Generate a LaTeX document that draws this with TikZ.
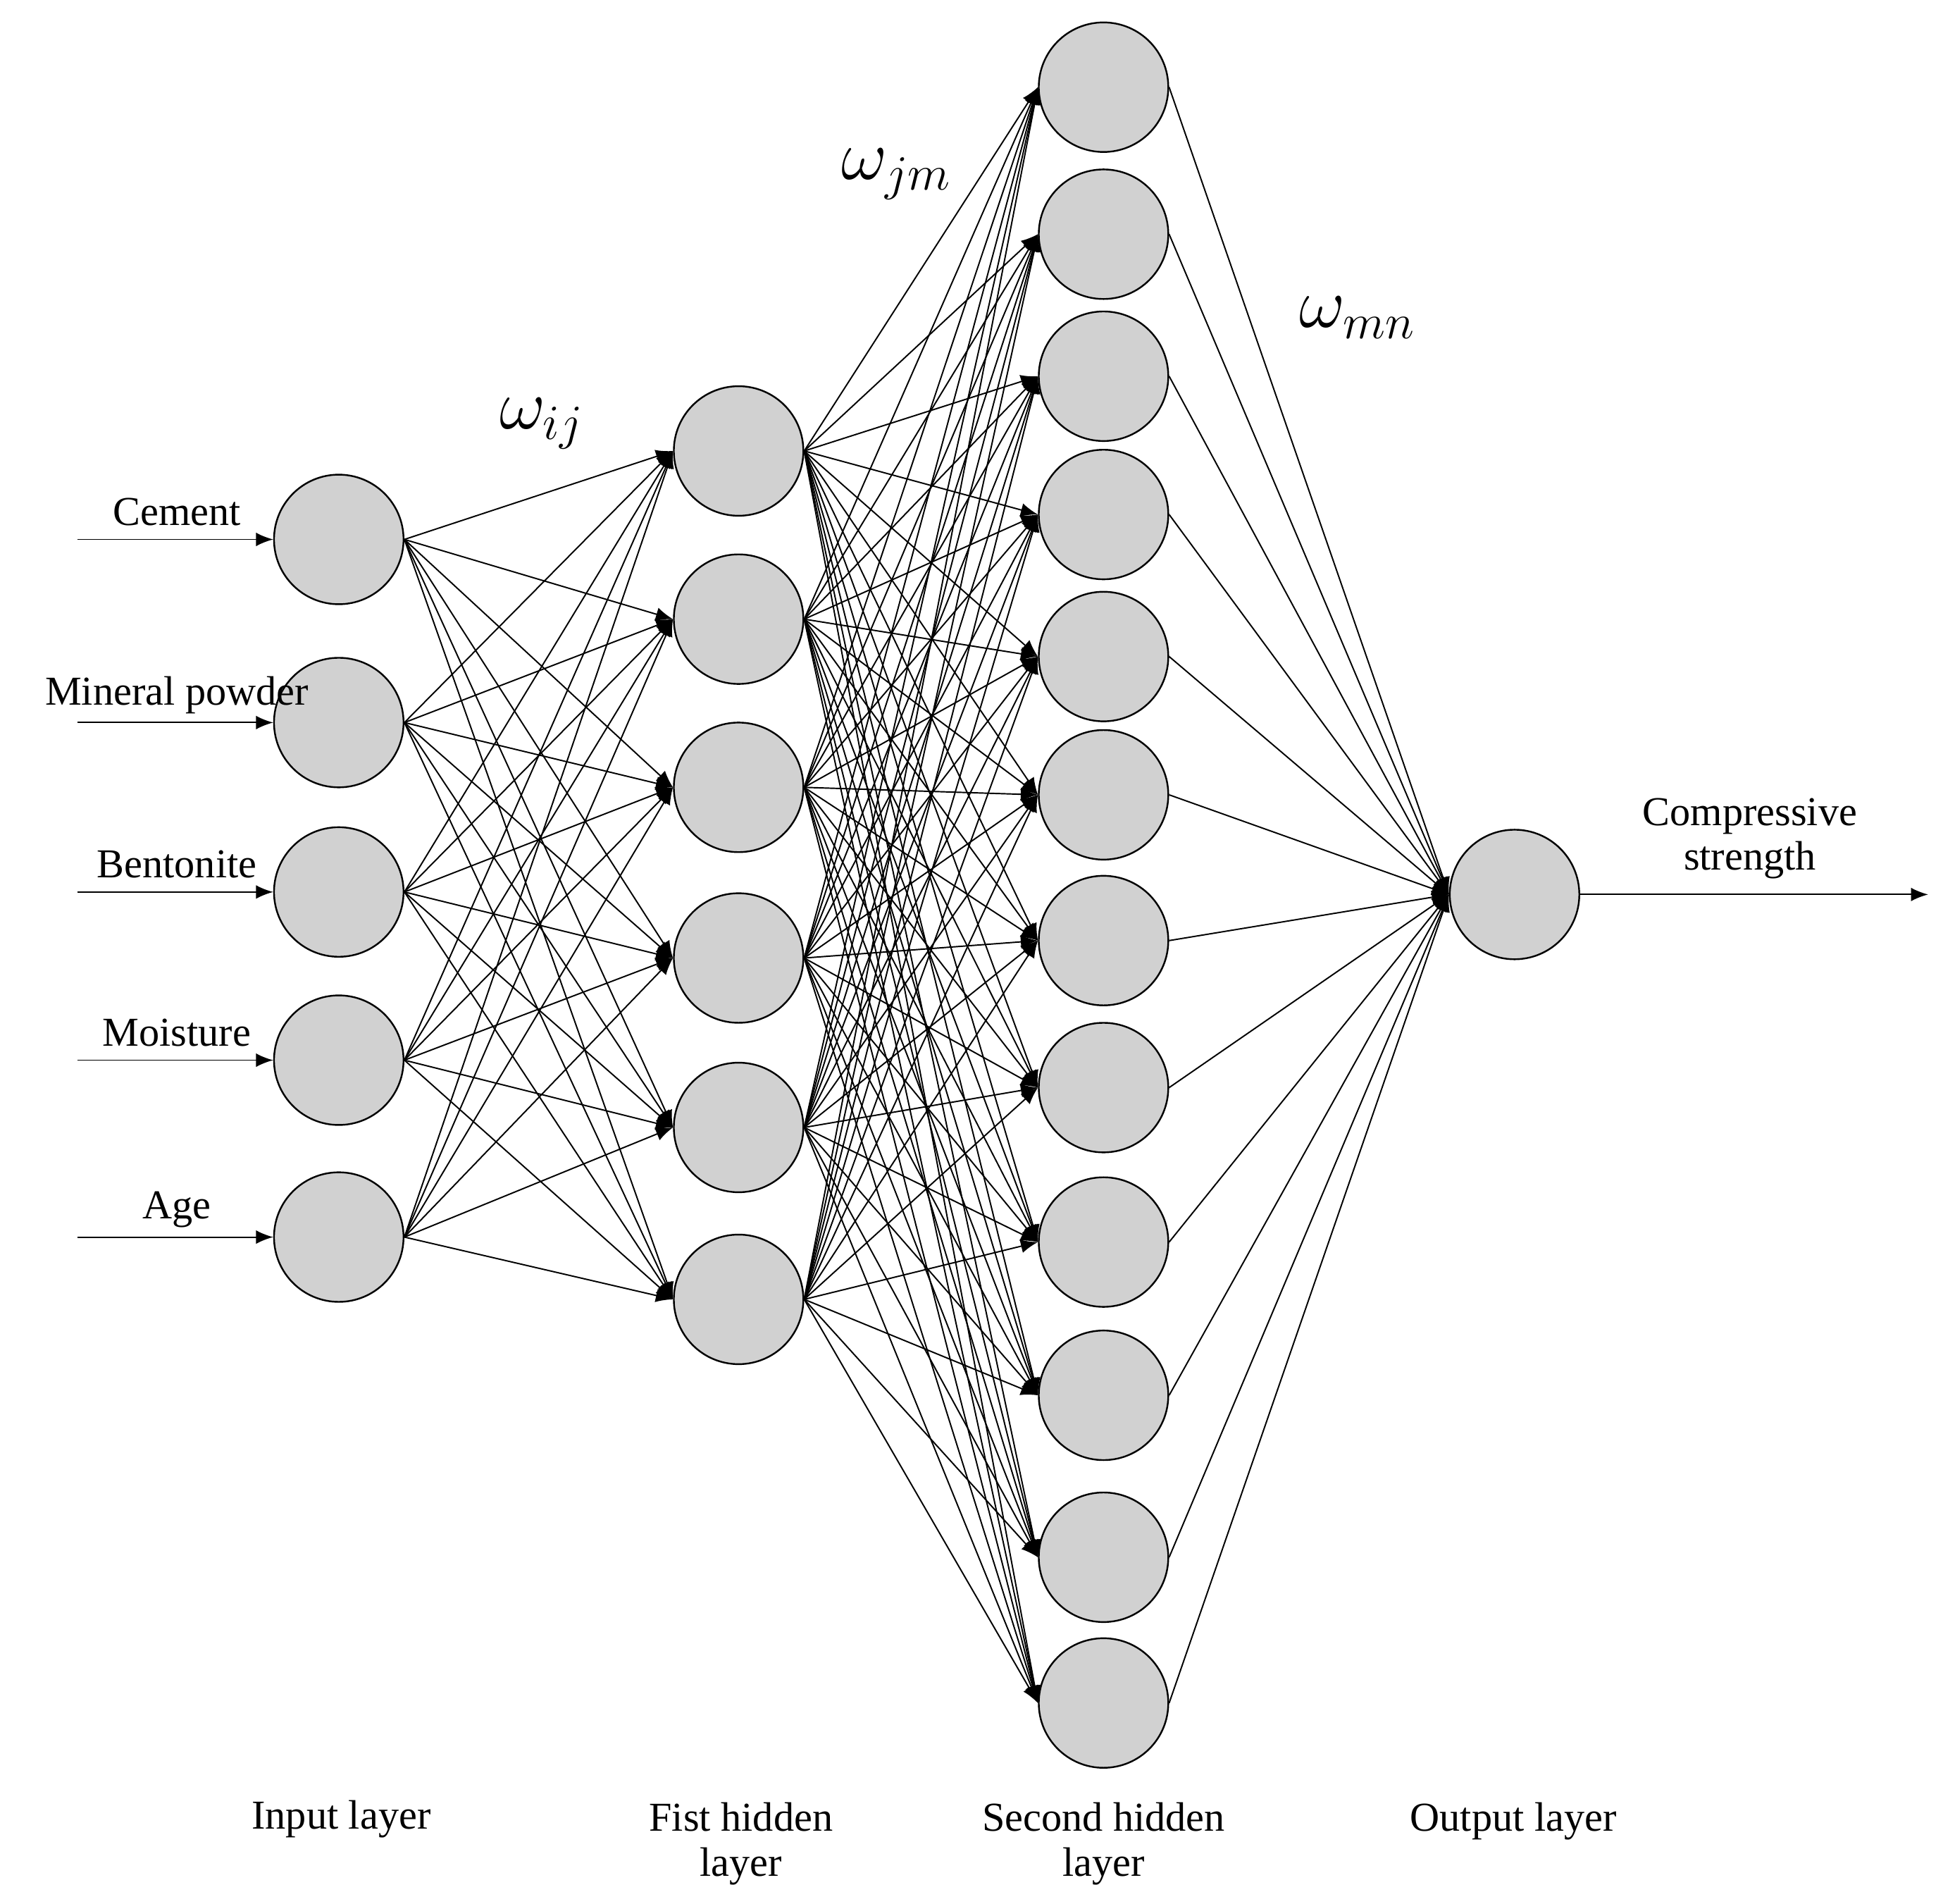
\documentclass[tikz,border=0pt]{standalone}
\usepackage{fontspec}
\setmainfont{Liberation Serif}
\usetikzlibrary{arrows.meta}
\begin{document}
\begin{tikzpicture}[x=0.364pt,y=-0.364pt,
  neu/.style={circle,draw=black,fill=black!18,minimum size=104*0.364pt,inner sep=0pt,line width=0.5pt},
  con/.style={-{Latex[length=5pt,width=4pt]},line width=0.4pt},
  lab/.style={font=\fontsize{12}{13}\selectfont,align=center}]
\useasboundingbox (0,0) rectangle (1560,1528);
\foreach \y [count=\i] in {433,580,716,851,993} \node[neu] (a\i) at (272,\y) {};
\foreach \y [count=\i] in {362,497,632,769,905,1043} \node[neu] (b\i) at (593,\y) {};
\foreach \y [count=\i] in {70,188,302,413,527,638,755,873,997,1120,1250,1367} \node[neu] (c\i) at (886,\y) {};
\node[neu] (o) at (1216,718) {};
\foreach \i in {1,...,5} \foreach \j in {1,...,6} \draw[con] (a\i.east) -- (b\j.west);
\foreach \j in {1,...,6} \foreach \m in {1,...,12} \draw[con] (b\j.east) -- (c\m.west);
\foreach \m in {1,...,12} \draw[con] (c\m.east) -- (o.west);
\foreach \t/\i in {Cement/1,Mineral powder/2,Bentonite/3,Moisture/4,Age/5}{
  \coordinate (s\i) at (63,{0}|-a\i);
  \path (a\i) ++(-210,0) coordinate (s\i);
  \draw[con] (s\i) -- (a\i.west);
  \path (a\i) ++(-130,-22) node[lab] (t\i) {\t};
}
\coordinate (e) at (1548,718);
\draw[con] (o.east) -- (e);
\node[lab] (ol) at (1405,673) {Compressive\\strength};
\node[font=\fontsize{20}{22}\selectfont] (w1) at (435,340) {$\omega_{ij}$};
\node[font=\fontsize{20}{22}\selectfont] (w2) at (720,140) {$\omega_{jm}$};
\node[font=\fontsize{20}{22}\selectfont] (w3) at (1090,255) {$\omega_{mn}$};
\node[lab] (l1) at (274,1460) {Input layer};
\node[lab] (l2) at (595,1480) {Fist hidden\\layer};
\node[lab] (l3) at (886,1480) {Second hidden\\layer};
\node[lab] (l4) at (1215,1462) {Output layer};
\end{tikzpicture}
\end{document}
